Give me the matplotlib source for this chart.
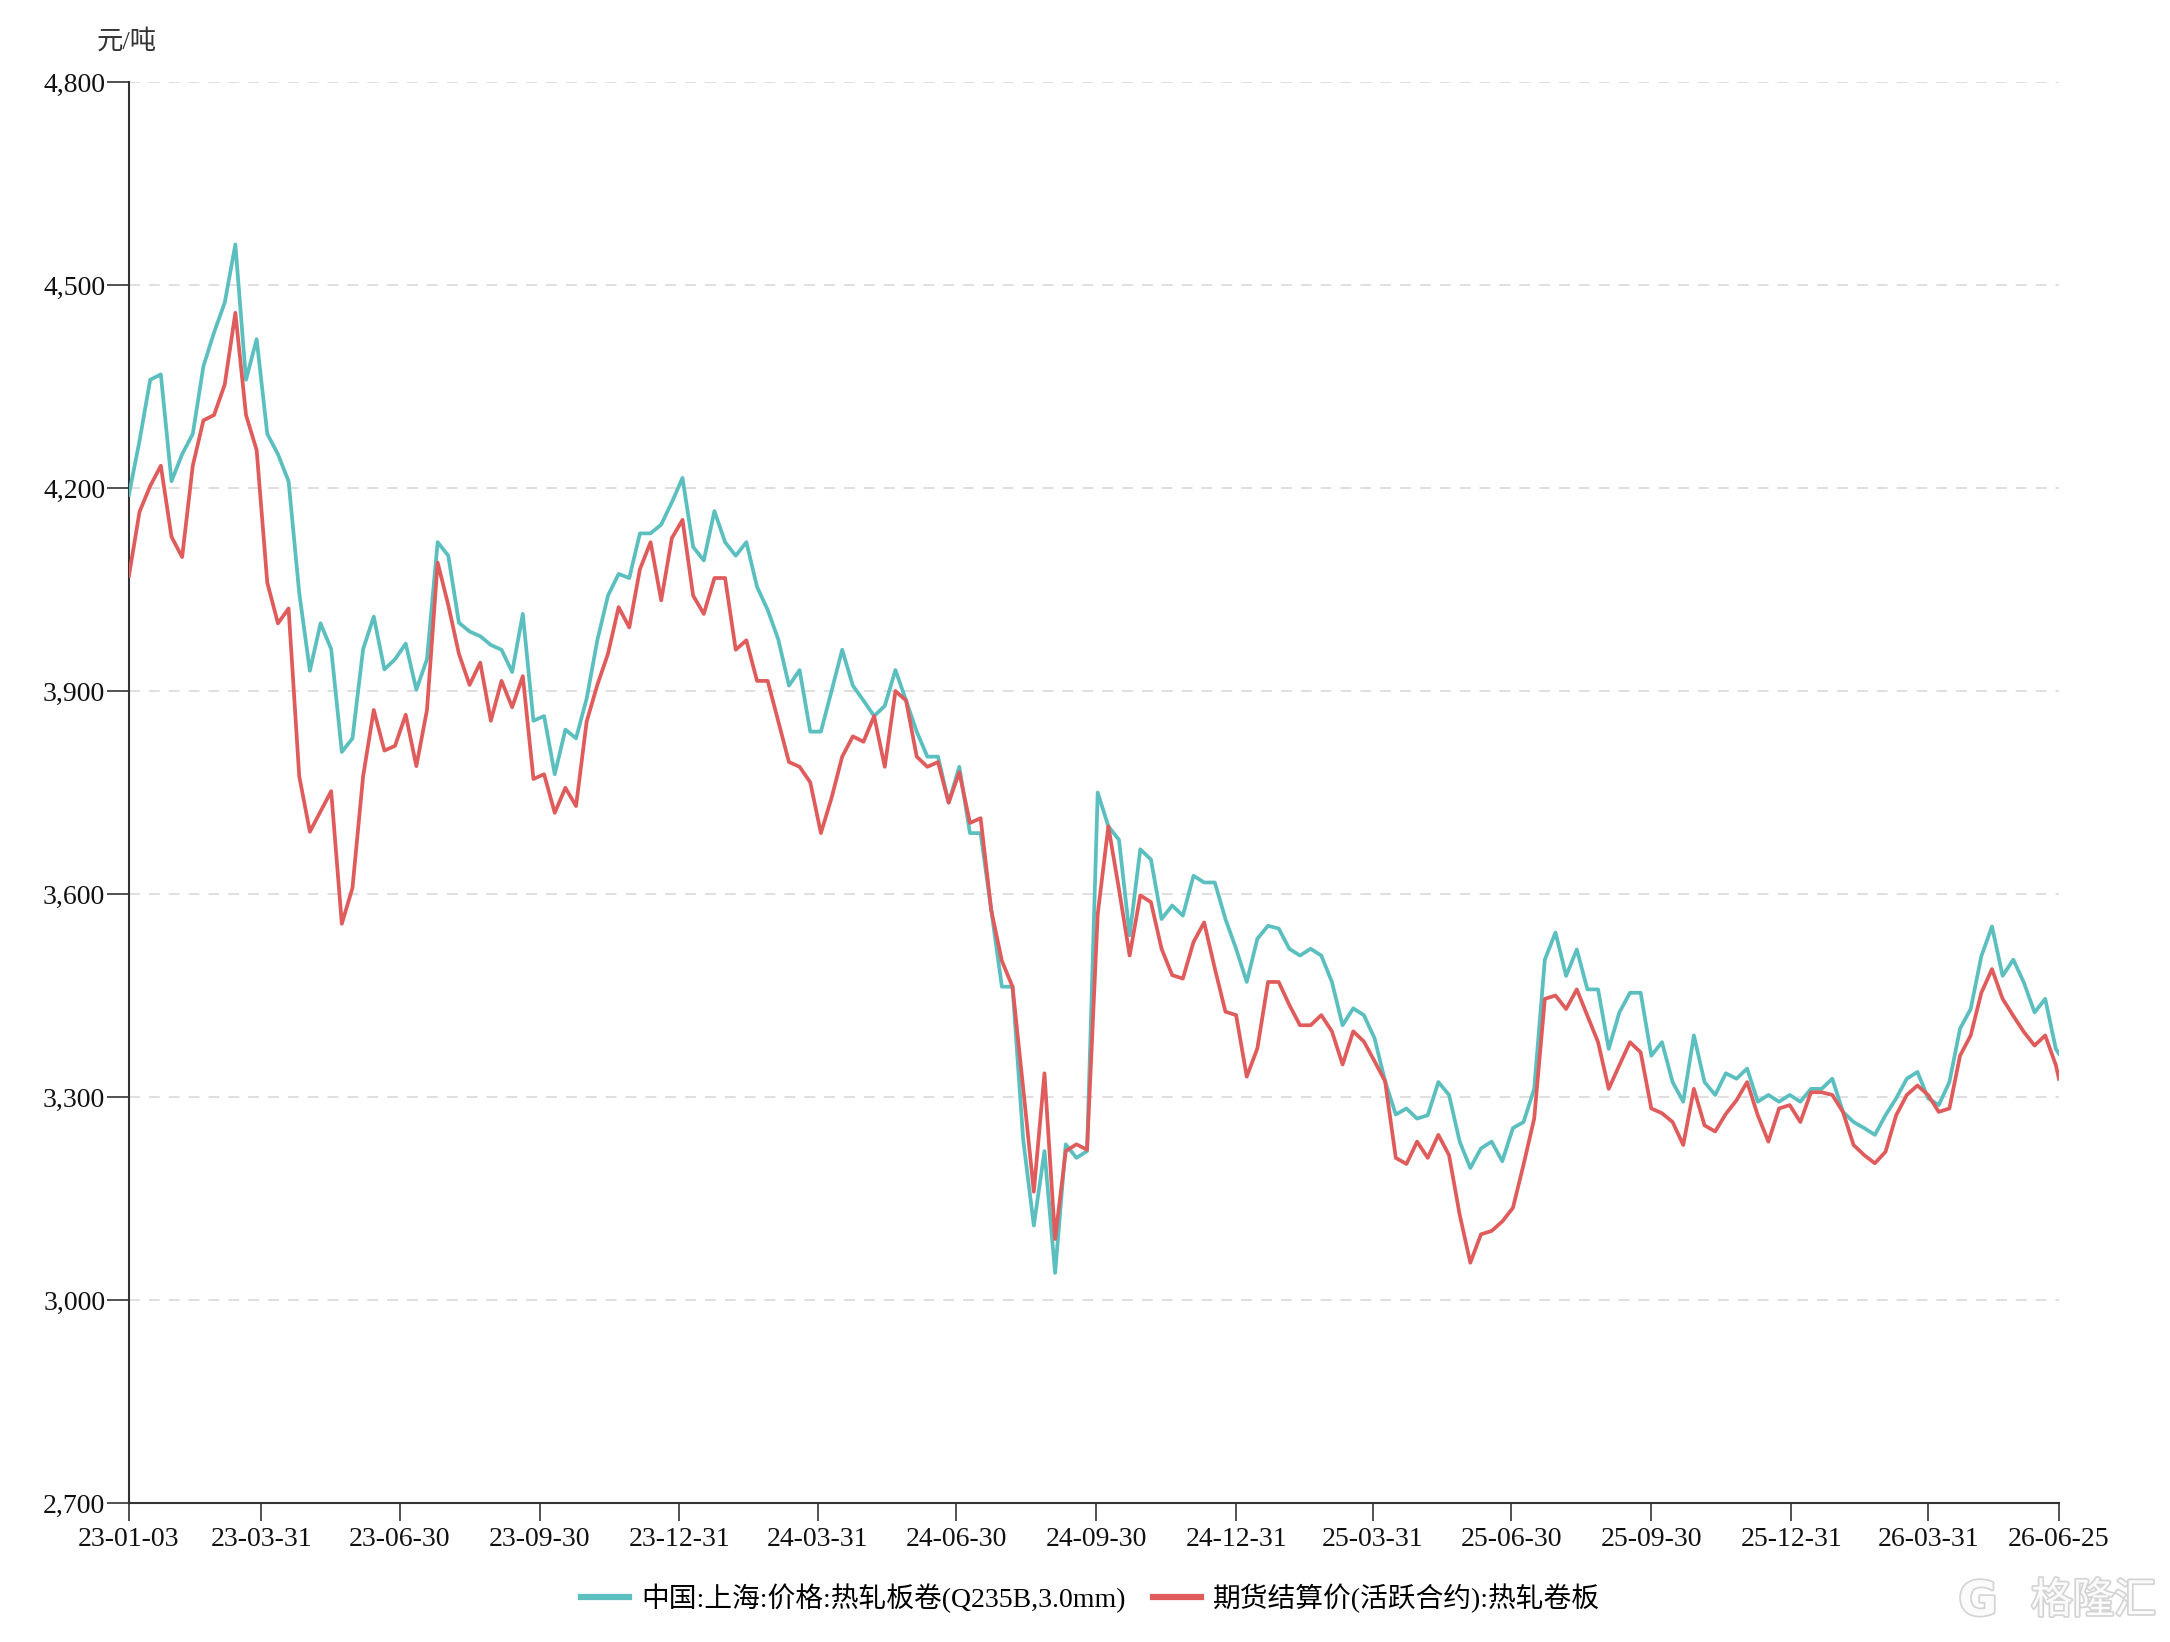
import matplotlib
matplotlib.use("Agg")
import matplotlib.pyplot as plt
import matplotlib.ticker as mticker
import matplotlib.patheffects as pe
import pandas as pd

plt.rcParams['font.family'] = ['Liberation Serif', 'Noto Sans CJK SC', 'DejaVu Sans']

# weekly readings, first Tuesday 2023-01-03, last point 2026-06-25
dates = list(pd.date_range('2023-01-03', periods=182, freq='7D')) + [pd.Timestamp('2026-06-25')]

spot_sh = [
    4190, 4270, 4360, 4368, 4210, 4250, 4280, 4380, 4430, 4474,
    4560, 4360, 4420, 4280, 4250, 4210, 4045, 3930, 4000, 3962,
    3810, 3830, 3962, 4010, 3932, 3947, 3970, 3902, 3947, 4120,
    4100, 4001, 3988, 3981, 3968, 3961, 3928, 4014, 3856, 3863,
    3777, 3843, 3830, 3889, 3975, 4041, 4073, 4067, 4133, 4133,
    4146, 4179, 4215, 4113, 4093, 4166, 4120, 4100, 4120, 4054,
    4020, 3976, 3908, 3931, 3840, 3840, 3900, 3961, 3908, 3886,
    3863, 3878, 3931, 3886, 3840, 3803, 3803, 3735, 3788, 3690,
    3690, 3576, 3463, 3463, 3237, 3110, 3220, 3040, 3230, 3210,
    3220, 3750, 3700, 3680, 3539, 3666, 3651, 3563, 3583, 3568,
    3627, 3617, 3617, 3563, 3519, 3470, 3534, 3553, 3549, 3519,
    3509, 3519, 3509, 3470, 3406, 3431, 3421, 3387, 3323, 3274,
    3283, 3268, 3273, 3322, 3303, 3234, 3195, 3224, 3234, 3205,
    3254, 3263, 3312, 3503, 3543, 3479, 3518, 3459, 3459, 3371,
    3425, 3454, 3454, 3361, 3381, 3322, 3293, 3391, 3322, 3303,
    3335, 3327, 3342, 3293, 3303, 3293, 3303, 3293, 3312, 3312,
    3327, 3278, 3263, 3254, 3244, 3273, 3298, 3327, 3337, 3298,
    3288, 3322, 3401, 3430, 3508, 3552, 3479, 3503, 3469, 3425,
    3445, 3371, 3364,
]

futures = [
    4070, 4165, 4203, 4233, 4128, 4098, 4233, 4300, 4308, 4353,
    4459, 4308, 4256, 4060, 4000, 4022, 3774, 3692, 3722, 3752,
    3556, 3609, 3774, 3872, 3812, 3819, 3865, 3789, 3872, 4090,
    4027, 3955, 3909, 3942, 3856, 3915, 3876, 3922, 3770, 3777,
    3720, 3757, 3730, 3855, 3909, 3955, 4024, 3994, 4080, 4120,
    4034, 4126, 4153, 4041, 4014, 4067, 4067, 3961, 3975, 3915,
    3915, 3855, 3795, 3788, 3765, 3690, 3742, 3803, 3833, 3825,
    3863, 3788, 3900, 3886, 3803, 3788, 3795, 3735, 3780, 3705,
    3712, 3576, 3501, 3463, 3313, 3160, 3335, 3090, 3220, 3230,
    3222, 3570, 3700, 3607, 3509, 3598, 3588, 3519, 3480, 3475,
    3529, 3558, 3490, 3426, 3421, 3330, 3372, 3470, 3470, 3436,
    3406, 3406, 3421, 3397, 3348, 3397, 3382, 3353, 3323, 3210,
    3201, 3234, 3210, 3244, 3214, 3126, 3055, 3097, 3102, 3116,
    3136, 3200, 3268, 3445, 3450, 3430, 3459, 3420, 3381, 3312,
    3347, 3381, 3366, 3283, 3276, 3263, 3229, 3312, 3258, 3249,
    3275, 3295, 3322, 3273, 3234, 3283, 3288, 3263, 3307, 3307,
    3303, 3278, 3229, 3214, 3202, 3219, 3273, 3303, 3317, 3303,
    3278, 3283, 3361, 3391, 3454, 3489, 3445, 3420, 3396, 3376,
    3391, 3347, 3327,
]

tick_dates = ['2023-01-03', '2023-03-31', '2023-06-30', '2023-09-30', '2023-12-31',
              '2024-03-31', '2024-06-30', '2024-09-30', '2024-12-31', '2025-03-31',
              '2025-06-30', '2025-09-30', '2025-12-31', '2026-03-31', '2026-06-25']
tick_labels = ['23-01-03', '23-03-31', '23-06-30', '23-09-30', '23-12-31',
               '24-03-31', '24-06-30', '24-09-30', '24-12-31', '25-03-31',
               '25-06-30', '25-09-30', '25-12-31', '26-03-31', '26-06-25']

name_spot = '中国:上海:价格:热轧板卷(Q235B,3.0mm)'
name_fut = '期货结算价(活跃合约):热轧卷板'

fig = plt.figure(figsize=(21.7, 16.42), dpi=100)
ax = fig.add_axes([0.0594, 0.0847, 0.8894, 0.8653])

ax.plot(dates, spot_sh, color='#5bbfc0', lw=2.7, label=name_spot, zorder=3)
ax.plot(dates, futures, color='#e05c5c', lw=2.7, label=name_fut, zorder=4)

ax.set_xlim(pd.Timestamp('2023-01-03'), pd.Timestamp('2026-06-25'))
ax.set_ylim(2700, 4800)
ax.set_yticks(range(2700, 4801, 300))
ax.yaxis.set_major_formatter(mticker.FuncFormatter(lambda v, p: f'{int(v):,}'))
ax.set_xticks([pd.Timestamp(d) for d in tick_dates])
ax.set_xticklabels(tick_labels)

ax.grid(axis='y', color='#dcdcdc', linestyle=(0, (6, 5)), lw=1.3)
ax.set_axisbelow(True)
for s in ['top', 'right']:
    ax.spines[s].set_visible(False)
for s in ['left', 'bottom']:
    ax.spines[s].set_color('#333333')
    ax.spines[s].set_linewidth(1.5)
ax.tick_params(axis='both', width=1.2, color='#333333', labelsize=20, labelcolor='#111111')
ax.tick_params(axis='y', length=16, pad=1)
ax.tick_params(axis='x', length=13, pad=4)

fig.text(0.0585, 0.975, '元/吨', ha='center', va='center', fontsize=19, color='#333333')

fig.legend(loc='center', bbox_to_anchor=(0.5026, 0.0268), ncol=2, frameon=False,
           fontsize=20, handlelength=1.7, handletextpad=0.45, columnspacing=1.0,
           handleheight=0.8)
for line in fig.legends[0].get_lines():
    line.set_linewidth(4.5)

# watermark
shadow = [pe.withStroke(linewidth=2.5, foreground='#d4d4d4')]
fig.text(0.9115, 0.024, 'G', ha='center', va='center', fontsize=34, color='#fbfbfb',
         fontweight='bold', family='DejaVu Sans', path_effects=shadow)
fig.text(0.9935, 0.024, '格隆汇', ha='right', va='center', fontsize=30, color='#fbfbfb',
         path_effects=shadow)

fig.savefig('out.png', dpi=100)
plt.close(fig)
